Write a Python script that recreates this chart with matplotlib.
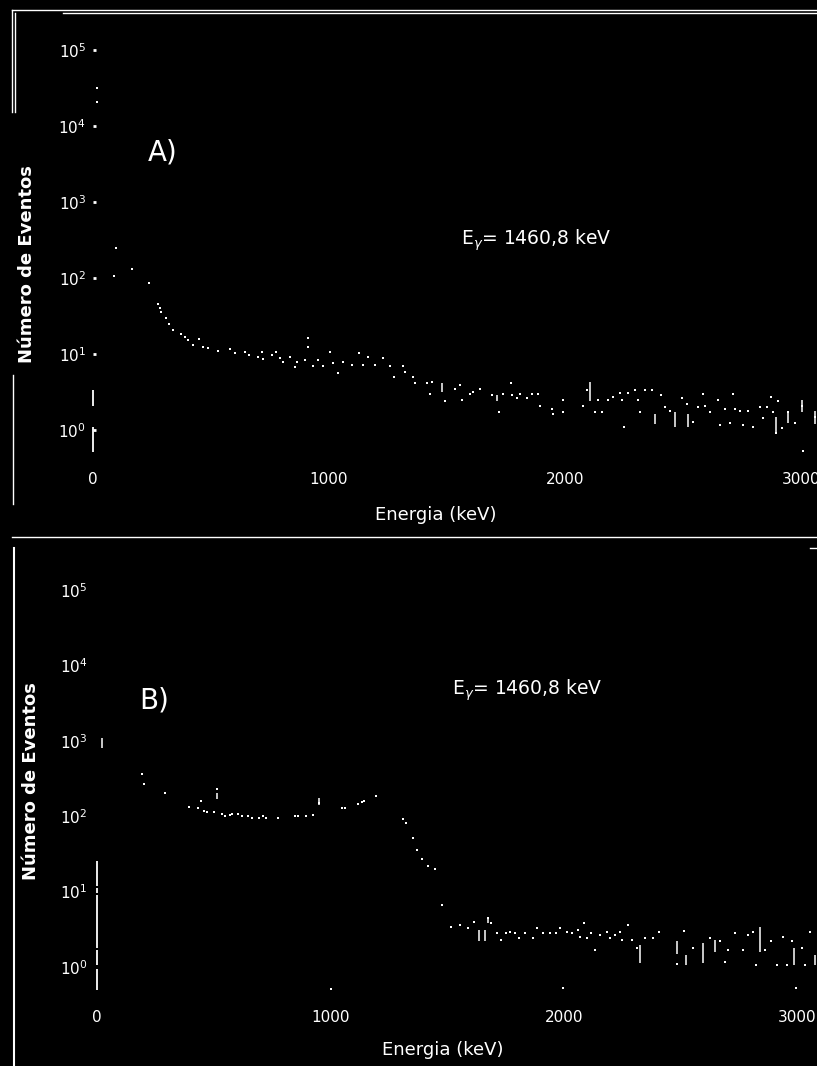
import matplotlib
matplotlib.use("Agg")
import matplotlib.pyplot as plt
from matplotlib.lines import Line2D
from matplotlib.ticker import NullLocator, LogFormatterMathtext

# ---------------- data ----------------
x_ticks = [0, 1000, 2000, 3000]
x_tick_labels = ["0", "1000", "2000", "3000"]
y_ticks = [1e0, 1e1, 1e2, 1e3, 1e4, 1e5]

# Panel A
A_energy = [17, 17, 97, 89, 164, 237, 274, 284, 288, 309, 323, 340,
            371, 390, 404, 425, 451, 468, 489, 531, 581, 602,
            644, 662, 701, 715, 722, 757, 775, 792, 806, 835,
            863, 856, 898, 910, 910, 931, 955, 976, 1004, 1016,
            1039, 1061, 1096, 1128, 1145, 1167, 1195, 1230, 1258, 1275,
            1312, 1322, 1355, 1364,
            1414, 1428, 1435, 1492, 1534, 1555, 1562, 1597, 1612, 1640,
            1689, 1722, 1739, 1771, 1774, 1795, 1809, 1838, 1859, 1887,
            1894, 1944, 1948, 1990, 1993, 2075, 2092, 2127, 2141, 2155,
            2184, 2205, 2233, 2240, 2250, 2268, 2297, 2311, 2318, 2339,
            2367, 2409, 2424, 2445, 2494, 2516, 2543, 2565, 2586, 2593,
            2614, 2650, 2657, 2678, 2699, 2711, 2720, 2742, 2755, 2776,
            2797, 2826, 2840, 2855, 2871, 2883, 2894, 2904, 2918, 2946,
            2975, 3003, 3007, 3059]
A_counts = [32000, 21000, 245, 107, 130, 85, 45.6, 40, 36, 29.5, 25, 21,
            18.3, 16.9, 15.2, 13.1, 15.6, 12.5, 11.9, 11.0, 11.5, 10.2,
            10.7, 9.7, 9.2, 10.7, 8.5, 9.7, 10.7, 8.8, 7.9, 9.0,
            7.9, 6.8, 8.3, 16.4, 12.3, 6.9, 8.3, 6.9, 10.7, 7.7,
            5.6, 7.9, 7.2, 10.2, 7.2, 9.0, 7.2, 8.8, 6.9, 5.0,
            6.9, 5.8, 5.0, 4.1,
            4.1, 3.0, 4.3, 2.4, 3.5, 3.9, 2.5, 3.0, 3.2, 3.5,
            2.9, 1.7, 3.0, 4.2, 2.9, 2.6, 3.0, 2.6, 3.0, 3.0,
            2.1, 1.9, 1.6, 2.5, 1.7, 2.1, 3.4, 1.7, 2.5, 1.7,
            2.5, 2.7, 3.1, 2.5, 1.09, 3.1, 3.4, 2.5, 1.7, 3.4,
            3.4, 2.9, 2.0, 1.8, 2.6, 2.2, 1.29, 2.0, 3.0, 2.1,
            1.7, 2.5, 1.16, 1.9, 1.22, 3.0, 1.9, 1.8, 1.16, 1.8,
            1.09, 2.0, 1.43, 2.0, 2.7, 1.7, 0.92, 2.4, 1.05, 1.7,
            1.22, 2.1, 0.53, 1.5]
A_streak_energy = [1478, 1710, 2106, 2381, 2466, 2522, 2894, 2946, 3003, 3059]
A_streak_low = [3.2, 2.4, 2.4, 1.2, 1.1, 1.1, 0.92, 1.25, 1.7, 1.2]
A_streak_high = [4.1, 2.9, 4.3, 1.6, 1.7, 1.6, 1.5, 1.7, 2.5, 1.8]
A_axis_low = [2.1, 0.52]
A_axis_high = [3.4, 1.09]

# Panel B
B_energy = [194, 203, 291, 395, 431, 445, 460, 470, 502, 516,
            534, 548, 570, 577, 605, 620, 645, 662, 694, 712,
            722, 774, 848, 862, 894, 926, 951, 1001, 1048, 1062,
            1119, 1134, 1145, 1193, 1312, 1322, 1355, 1369, 1393, 1418,
            1448, 1476, 1515, 1555, 1590, 1615, 1676, 1686, 1712, 1729,
            1752, 1769, 1790, 1809, 1833, 1866, 1886, 1909, 1940, 1966,
            1983, 1997, 2012, 2033, 2061, 2069, 2087, 2097, 2118, 2133,
            2154, 2183, 2197, 2218, 2240, 2247, 2273, 2290, 2314, 2347,
            2382, 2408, 2483, 2514, 2551, 2625, 2668, 2689, 2704, 2732,
            2768, 2790, 2811, 2822, 2861, 2889, 2911, 2940, 2954, 2975,
            2996, 3018, 3032, 3054]
B_counts = [361, 268, 201, 134, 127, 159, 118, 112, 112, 228,
            107, 102, 104, 107, 107, 102, 102, 95, 95, 100,
            96, 95, 100, 100, 100, 104, 151, 0.51, 127, 127,
            144, 153, 161, 186, 91, 82, 51, 36, 27, 22,
            20, 6.6, 3.4, 3.6, 3.3, 4.0, 4.4, 3.8, 2.85, 2.3,
            2.8, 2.9, 2.8, 2.4, 2.8, 2.4, 3.3, 2.85, 2.85, 2.85,
            3.3, 0.52, 2.9, 2.8, 3.1, 2.5, 3.8, 2.4, 2.85, 1.7,
            2.65, 2.9, 2.4, 2.65, 2.9, 2.3, 3.6, 2.3, 1.8, 2.4,
            2.4, 2.9, 1.08, 3.0, 1.8, 2.4, 2.2, 1.17, 1.7, 2.85,
            1.7, 2.65, 2.9, 1.06, 1.7, 2.2, 1.06, 2.5, 1.06, 2.2,
            0.52, 1.8, 1.06, 2.9]
B_streak_energy = [20, 516, 951, 1637, 1662, 1676, 2325, 2483, 2522, 2597,
                   2647, 2839, 2985, 3075]
B_streak_low = [800, 170, 140, 2.2, 2.2, 3.8, 1.13, 1.5, 1.06, 1.13,
                1.6, 1.6, 1.06, 1.06]
B_streak_high = [1090, 200, 175, 3.1, 3.1, 4.6, 1.95, 2.2, 1.44, 2.1,
                 2.3, 3.4, 1.8, 1.44]
B_axis_low = [11.7, 9.5, 1.78, 1.07, 0.50]
B_axis_high = [25.1, 11.0, 8.9, 1.70, 0.93]

y_label = "Número de Eventos"
x_label = "Energia (keV)"
annot = r"E$_\gamma$= 1460,8 keV"

assert len(A_energy) == len(A_counts)
assert len(B_energy) == len(B_counts)

# ---------------- figure ----------------
W, H = 817, 1066
fig = plt.figure(figsize=(W / 100, H / 100), dpi=100, facecolor="black")
plt.rcParams["font.family"] = ["DejaVu Sans"]
plt.rcParams["mathtext.fontset"] = "dejavusans"


def box(l, t, r, b):
    return [l / W, 1 - b / H, (r - l) / W, (b - t) / H]


def ftext(x, y, s, **kw):
    fig.text(x / W, 1 - y / H, s, color="white", ha="center", va="center", **kw)


def fline(x0, y0, x1, y1, lw=1.0):
    fig.add_artist(Line2D([x0 / W, x1 / W], [1 - y0 / H, 1 - y1 / H],
                          color="white", lw=lw))


def setup(ax, xmax, ylo, yhi, ytick_len, ypad, xpad):
    ax.set_facecolor("black")
    ax.set_yscale("log")
    ax.set_xlim(0, xmax)
    ax.set_ylim(ylo, yhi)
    for s in ax.spines.values():
        s.set_visible(False)
    ax.set_yticks(y_ticks)
    ax.yaxis.set_major_formatter(LogFormatterMathtext())
    ax.yaxis.set_minor_locator(NullLocator())
    ax.set_xticks(x_ticks)
    ax.set_xticklabels(x_tick_labels)
    ax.tick_params(axis="y", colors="white", labelsize=11, length=ytick_len,
                   width=2, direction="in", pad=ypad)
    ax.tick_params(axis="x", colors="white", labelsize=11, length=0, pad=xpad)


axA = fig.add_axes(box(93, 30, 817, 455))
setup(axA, 3068, 10 ** -0.329, 10 ** 5.263, 2, 5, 12)
axA.plot(A_energy, A_counts, "s", ms=1.8, mew=0, color="white")
axA.vlines(A_streak_energy, A_streak_low, A_streak_high, color="white", lw=1.1)
axA.vlines([0] * len(A_axis_low), A_axis_low, A_axis_high, color="white",
           lw=1.3, clip_on=False)

axB = fig.add_axes(box(97, 565, 817, 995))
setup(axB, 3084, 10 ** -0.371, 10 ** 5.33, 0, 7, 11)
axB.plot(B_energy, B_counts, "s", ms=1.8, mew=0, color="white")
axB.vlines(B_streak_energy, B_streak_low, B_streak_high, color="white", lw=1.1)
axB.vlines([0] * len(B_axis_low), B_axis_low, B_axis_high, color="white",
           lw=1.3, clip_on=False)

# texts
ftext(27, 264, y_label, rotation=90, fontsize=13, fontweight="bold")
ftext(31, 781, y_label, rotation=90, fontsize=13, fontweight="bold")
ftext(436, 515, x_label, fontsize=13)
ftext(443, 1050, x_label, fontsize=13)
ftext(163, 153, "A)", fontsize=20)
ftext(154, 700, "B)", fontsize=20)
ftext(536, 240, annot, fontsize=13.5)
ftext(527, 690, annot, fontsize=13.5)

# frame decorations
fline(12, 9.5, 817, 9.5)
fline(63, 12.5, 817, 12.5)
fline(12, 9.5, 12, 112)
fline(15, 12.5, 15, 112)
fline(13, 375, 13, 504)
fline(12, 537, 817, 537)
fline(14, 548, 14, 1066, lw=1.5)
fline(810, 548, 817, 548)

fig.savefig("out.png", dpi=100, facecolor="black")
